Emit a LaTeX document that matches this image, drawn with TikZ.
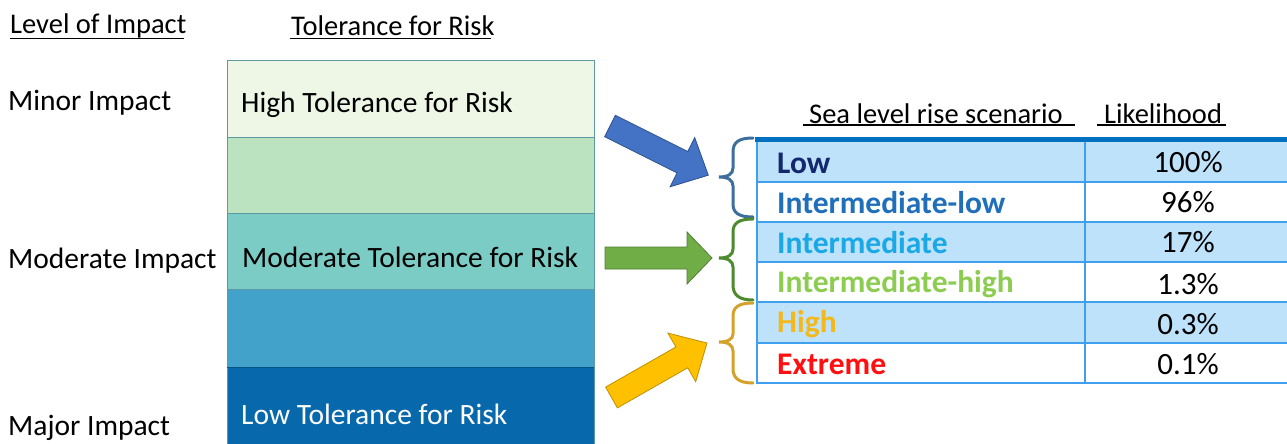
\documentclass[tikz,border=0pt]{standalone}
\usepackage{fontspec}
\setmainfont{Carlito}
\definecolor{bandA}{HTML}{EEF6E6}
\definecolor{bandB}{HTML}{BBE3C0}
\definecolor{bandC}{HTML}{7BCCC4}
\definecolor{bandD}{HTML}{43A2CA}
\definecolor{bandE}{HTML}{0868AC}
\definecolor{bandLine}{HTML}{5E9AA6}
\definecolor{rowBlue}{HTML}{BDE2FA}
\definecolor{gridBlue}{HTML}{3FA0F0}
\definecolor{topBlue}{HTML}{0070C0}
\definecolor{cLow}{HTML}{14286E}
\definecolor{cIntLow}{HTML}{1F6FBA}
\definecolor{cInt}{HTML}{1AA8E6}
\definecolor{cIntHigh}{HTML}{8CCC50}
\definecolor{cHigh}{HTML}{F2B81C}
\definecolor{cExt}{HTML}{FF1010}
\definecolor{arBlue}{HTML}{4472C4}
\definecolor{arBlueE}{HTML}{2F528F}
\definecolor{arGreen}{HTML}{70AD47}
\definecolor{arGreenE}{HTML}{507E32}
\definecolor{arGold}{HTML}{FFC000}
\definecolor{arGoldE}{HTML}{BF9000}
\definecolor{brBlue}{HTML}{3D6E9E}
\definecolor{brGreen}{HTML}{4E8A2E}
\definecolor{brGold}{HTML}{D4A22A}
\begin{document}
\begin{tikzpicture}[x=1pt,y=-1pt,
  hdr/.style={anchor=west,inner sep=0pt,font=\fontsize{28.5}{32}\selectfont},
  lbl/.style={anchor=west,inner sep=0pt,font=\fontsize{29.5}{33}\selectfont},
  rowlbl/.style={anchor=west,inner sep=0pt,font=\fontsize{31.5}{35}\selectfont\bfseries},
  pct/.style={inner sep=0pt,font=\fontsize{31}{35}\selectfont},
  uline/.style={line width=1.2pt,black},
  band/.style={draw=bandLine,line width=0.8pt},
  grid/.style={draw=gridBlue,line width=2pt},
  blockarrow/.style={line width=0.8pt,line join=miter},
  brace/.style={line width=3pt,line cap=round}]
\useasboundingbox (0,0) rectangle (1287,444);

% headers
\node[hdr] (loi) at (10,25.5) {Level of Impact};
\draw[uline] (10,38.5) -- (184,38.5);
\node[hdr] (tfr) at (291,25.5) {Tolerance for Risk};
\draw[uline] (290,38.5) -- (491,38.5);

% impact labels
\node[lbl] (minor) at (8,103) {Minor Impact};
\node[lbl] (moder) at (8,261) {Moderate Impact};
\node[lbl] (major) at (8,428) {Major Impact};

% tolerance stack
\fill[bandA] (227,60) rectangle (594,137);
\fill[bandB] (227,137) rectangle (594,213);
\fill[bandC] (227,213) rectangle (594,289);
\fill[bandD] (227,289) rectangle (594,367);
\fill[bandE] (227,367) rectangle (594,444);
\draw[band] (227,444) -- (227,60) -- (594,60) -- (594,444);
\draw[band] (227,137) -- (594,137);
\draw[band] (227,213) -- (594,213);
\draw[band] (227,289) -- (594,289);
\draw[band,draw=bandE!80!black] (227,367) -- (594,367);
\node[lbl] (hitol) at (241,105) {High Tolerance for Risk};
\node[lbl] (modtol) at (242,257) {Moderate Tolerance for Risk};
\node[lbl,text=white] (lowtol) at (241,414) {Low Tolerance for Risk};

% block arrows
\draw[blockarrow,fill=arBlue,draw=arBlueE]
  (604.6,136.7) -- (677,172.9) -- (670.1,186.8) -- (708.3,175.2)
  -- (694.7,137.6) -- (687.8,151.5) -- (615.4,115.3) -- cycle;
\draw[blockarrow,fill=arGreen,draw=arGreenE]
  (605,247) -- (687,247) -- (687,232) -- (712,258)
  -- (687,284) -- (687,269) -- (605,269) -- cycle;
\draw[blockarrow,fill=arGold,draw=arGoldE]
  (617.4,407.9) -- (687.7,367.8) -- (695.7,381.7) -- (707,343)
  -- (667.9,333.1) -- (675.9,347) -- (605.6,387.1) -- cycle;

% braces
\draw[brace,brBlue] (753,138) .. controls (739,138) and (733,142) .. (733,152)
  -- (733,168) .. controls (733,174) and (728,177) .. (719,177)
  .. controls (728,177) and (733,180) .. (733,186)
  -- (733,204) .. controls (733,213) and (739,217) .. (753,217);
\draw[brace,brGreen] (753,219) .. controls (739,219) and (733,223) .. (733,232)
  -- (733,249) .. controls (733,255) and (728,258) .. (719,258)
  .. controls (728,258) and (733,261) .. (733,267)
  -- (733,285) .. controls (733,295) and (739,300) .. (753,300);
\draw[brace,brGold] (753,303) .. controls (739,303) and (733,307) .. (733,316)
  -- (733,334) .. controls (733,339) and (728,342) .. (719,342)
  .. controls (728,342) and (733,345) .. (733,351)
  -- (733,369) .. controls (733,378) and (739,383) .. (753,383);

% table header
\node[hdr] (slr) at (809,114) {Sea level rise scenario};
\draw[uline] (803,125) -- (1075,125);
\node[hdr] (lik) at (1104,114) {Likelihood};
\draw[uline] (1097,125) -- (1226,125);

% table rows
\fill[rowBlue] (757,142) rectangle (1287,182);
\fill[rowBlue] (757,222) rectangle (1287,262);
\fill[rowBlue] (757,302) rectangle (1287,343);
\foreach \yy in {182,222,262,302,343,383} {\draw[grid] (757,\yy) -- (1287,\yy);}
\draw[grid] (757,140) -- (757,384);
\draw[grid] (1085,140) -- (1085,384);
\draw[draw=topBlue,line width=5pt] (755,139.5) -- (1287,139.5);

\node[rowlbl,text=cLow] (r1) at (777,163) {Low};
\node[rowlbl,text=cIntLow] (r2) at (777,203) {Intermediate-low};
\node[rowlbl,text=cInt] (r3) at (777,243) {Intermediate};
\node[rowlbl,text=cIntHigh] (r4) at (777,284) {Intermediate-high};
\node[rowlbl,text=cHigh] (r5) at (777,324) {High};
\node[rowlbl,text=cExt] (r6) at (777,364) {Extreme};
\node[pct] (p1) at (1188,162) {100\%};
\node[pct] (p2) at (1188,202) {96\%};
\node[pct] (p3) at (1188,242) {17\%};
\node[pct] (p4) at (1188,284) {1.3\%};
\node[pct] (p5) at (1188,324) {0.3\%};
\node[pct] (p6) at (1188,364) {0.1\%};
\end{tikzpicture}
\end{document}
